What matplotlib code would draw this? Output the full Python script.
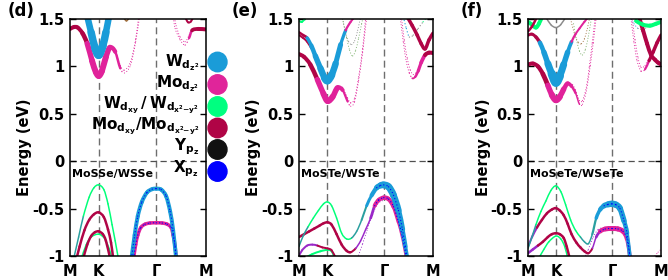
import numpy as np
import matplotlib
matplotlib.use("Agg")
import matplotlib.pyplot as plt
from matplotlib.path import Path
from matplotlib.patches import PathPatch, Ellipse

plt.rcParams["font.family"] = ["DejaVu Sans"]
plt.rcParams["font.weight"] = "bold"
plt.rcParams["mathtext.default"] = "bf"

# k-path M-K-G-M (|MK| : |KG| : |GM| = 0.5 : 1 : 0.866)
kpts = [0.0, 0.5, 1.5, 2.366]
klabels = ["M", "K", "Γ", "M"]
yticks = [-1, -0.5, 0, 0.5, 1, 1.5]
yticklabels = ["-1", "-0.5", "0", "0.5", "1", "1.5"]

# orbital characters
orb_colors = {
    "b": "#1a9cd8",  # W dz2
    "m": "#e0229a",  # Mo dz2
    "g": "#00ff78",  # W dxy / dx2-y2
    "r": "#b00446",  # Mo dxy / dx2-y2
    "k": "#111111",  # Y pz
    "x": "#0000ff",  # X pz
    "t": "#2a9f9f",  # mixed W dz2 + W dxy
    "p": "#9a28c8",  # mixed Mo + X
    "o": "#7ab06a",
    "y": "#8c8c8c",
    "n": "#a07040",
}

# each band: (k, energy, weight, orbital character per point)
# ---- (d) MoSSe/WSSe ----
d_c5 = ([0.929, 0.982, 1.036], [1.52, 1.48, 1.52], [1.5, 1.5, 1.5], "nnn")
d_c4 = ([2.002, 2.054, 2.106, 2.141], [1.52, 1.465, 1.475, 1.52], [2, 2, 2, 2], "rrrr")
d_c3b = ([1.812, 1.846, 1.916, 2.002, 2.072, 2.124], [1.54, 1.43, 1.31, 1.26, 1.33, 1.40], [1] * 6, "mmmmmm")
d_c3 = ([1.794, 1.829, 1.916, 2.002, 2.072, 2.124, 2.227, 2.366],
        [1.54, 1.40, 1.28, 1.225, 1.30, 1.38, 1.395, 1.39],
        [1, 1, 1, 1, 1.5, 3.5, 4, 4], "mmmmmrrr")
d_c1b = ([0.786, 0.875, 0.946, 1.054, 1.143, 1.196], [1.17, 1.01, 0.96, 1.05, 1.29, 1.54], [1] * 6, "mmmmmm")
d_c1 = ([0, 0.067, 0.133, 0.217, 0.30, 0.383, 0.45, 0.5, 0.554, 0.625, 0.696, 0.786, 0.875, 0.946, 1.054, 1.143, 1.214],
        [1.395, 1.415, 1.41, 1.35, 1.24, 1.06, 0.94, 0.90, 0.95, 1.10, 1.20, 1.155, 0.98, 0.93, 1.015, 1.26, 1.54],
        [4, 4, 4, 4, 5, 6, 6, 6, 6, 6, 5, 3.5, 1.5, 1, 1, 1, 1], "rrrrmmmmmmmmmmmmm")
d_c2 = ([0.30, 0.367, 0.433, 0.5, 0.571, 0.625, 0.679], [1.53, 1.36, 1.20, 1.12, 1.22, 1.36, 1.53],
        [6, 7, 8, 8, 8, 7, 6], "bbbbbbb")
d_v1 = ([0.067, 0.15, 0.233, 0.333, 0.417, 0.5, 0.589, 0.661, 0.732, 0.786, 0.839],
        [-1.02, -0.80, -0.58, -0.38, -0.28, -0.25, -0.30, -0.45, -0.67, -0.84, -1.02], [1.5] * 11, "ttggggggggg")
d_v3g = ([0.2, 0.283, 0.367, 0.5, 0.607, 0.679, 0.732], [-1.02, -0.88, -0.80, -0.77, -0.82, -0.92, -1.02],
         [1.5] * 7, "ggggggg")
d_v2 = ([0.117, 0.167, 0.25, 0.333, 0.417, 0.5, 0.589, 0.661, 0.714, 0.75],
        [-1.02, -0.90, -0.73, -0.62, -0.56, -0.54, -0.59, -0.72, -0.86, -1.02], [2.5] * 10, "rrrrrrrrrr")
d_v3 = ([0.233, 0.30, 0.367, 0.433, 0.5, 0.571, 0.625, 0.696],
        [-1.02, -0.88, -0.79, -0.75, -0.74, -0.77, -0.84, -1.02], [2.5] * 8, "rrrrrrrr")
d_v5 = ([1.107, 1.143, 1.179, 1.232, 1.304, 1.393, 1.5, 1.604, 1.691, 1.760, 1.794, 1.829, 1.846],
        [-1.02, -0.88, -0.78, -0.70, -0.665, -0.652, -0.65, -0.652, -0.665, -0.70, -0.78, -0.90, -1.02],
        [3.5] * 13, "m" * 13)
d_v4 = ([1.071, 1.125, 1.179, 1.25, 1.339, 1.429, 1.5, 1.587, 1.673, 1.742, 1.794, 1.846],
        [-1.02, -0.78, -0.58, -0.43, -0.33, -0.295, -0.29, -0.30, -0.37, -0.53, -0.73, -1.02],
        [4] * 12, "b" * 12)

# ---- (e) MoSTe/WSTe ----
e_c0 = ([0, 0.054, 0.126], [1.48, 1.47, 1.52], [2, 2, 2], "ggg")
e_c4 = ([0.770, 0.824, 0.877, 0.930, 0.983, 1.036, 1.088], [1.50, 1.35, 1.26, 1.23, 1.27, 1.38, 1.52], [1] * 7, "yyyyyyy")
e_c3 = ([0.735, 0.788, 0.841, 0.894, 0.947, 1.0, 1.053, 1.106, 1.141],
        [1.62, 1.45, 1.30, 1.17, 1.11, 1.17, 1.30, 1.45, 1.55], [1] * 9, "ooooooooo")
e_c1b = ([0.770, 0.859, 0.912, 0.982, 1.053, 1.124, 1.177], [0.78, 0.665, 0.615, 0.665, 0.89, 1.19, 1.52], [1] * 7, "m" * 7)
e_c1 = ([0, 0.090, 0.199, 0.325, 0.433, 0.505, 0.594, 0.682, 0.770, 0.859, 0.912, 0.982, 1.053, 1.124, 1.195],
        [1.13, 1.10, 1.02, 0.86, 0.71, 0.635, 0.68, 0.775, 0.75, 0.63, 0.58, 0.63, 0.85, 1.15, 1.52],
        [4, 4, 4, 5, 6, 6, 6, 5, 3, 1.5, 1, 1, 1, 1, 1], "rrrmmmmmmmmmmmm")
e_c2b = ([0, 0.072, 0.144, 0.217], [1.33, 1.30, 1.26, 1.19], [2] * 4, "rrrr")
e_c2 = ([0, 0.072, 0.144, 0.217, 0.289, 0.379, 0.451, 0.505, 0.576, 0.647, 0.735, 0.824, 0.912, 0.983],
        [1.36, 1.33, 1.30, 1.22, 1.11, 0.98, 0.88, 0.85, 0.91, 1.03, 1.23, 1.38, 1.47, 1.52],
        [2.5, 2.5, 3, 4, 5, 6, 7, 8, 7, 6, 4, 2.5, 2, 2], "rrbbbbbbbbbmmm")
e_c7 = ([1.843, 1.895, 1.948, 2.017, 2.104, 2.191, 2.261], [1.52, 1.40, 1.31, 1.33, 1.40, 1.47, 1.52], [1.2] * 7, "bbyyygg")
e_c5b = ([1.808, 1.860, 1.913, 1.965, 2.017, 2.069, 2.121], [1.52, 1.27, 1.08, 0.96, 0.915, 0.935, 1.00], [1] * 7, "m" * 7)
e_c5 = ([1.791, 1.843, 1.895, 1.948, 2.0, 2.052, 2.104, 2.157, 2.226, 2.296, 2.366],
        [1.50, 1.25, 1.05, 0.93, 0.875, 0.89, 0.95, 1.04, 1.12, 1.145, 1.14],
        [1, 1, 1, 1, 1.5, 2, 3, 3.5, 4, 4, 4], "mmmmmmmmrrr")
e_c6 = ([1.913, 2.0, 2.087, 2.157, 2.226, 2.296, 2.366], [1.52, 1.43, 1.33, 1.24, 1.185, 1.28, 1.35], [3.5] * 7, "rrrrrrr")
e_v4 = ([0.108, 0.235, 0.379, 0.505, 0.576, 0.629], [-1.02, -0.98, -0.95, -0.935, -0.95, -1.02], [2] * 6, "gggggg")
e_v3 = ([0, 0.054, 0.144, 0.235, 0.325, 0.415, 0.505, 0.576, 0.647],
        [-1.00, -0.94, -0.89, -0.88, -0.89, -0.91, -0.92, -0.94, -1.02], [2] * 9, "pppprrrrr")
e_v5 = ([1.036, 1.124, 1.212, 1.300, 1.389, 1.495], [-1.02, -0.87, -0.71, -0.56, -0.45, -0.41], [1] * 6, "pppppp")
e_v2 = ([0, 0.090, 0.181, 0.271, 0.361, 0.433, 0.505, 0.576, 0.664, 0.753, 0.841, 0.912,
         1.0, 1.088, 1.177, 1.265, 1.336, 1.406, 1.495, 1.582, 1.669, 1.756, 1.826, 1.895],
        [-0.80, -0.77, -0.74, -0.71, -0.68, -0.655, -0.645, -0.67, -0.77, -0.88, -0.945, -0.96,
         -0.92, -0.84, -0.72, -0.60, -0.47, -0.41, -0.385, -0.40, -0.48, -0.64, -0.80, -1.02],
        [2.5] * 12 + [1.5] * 4 + [4, 4, 4.5, 4.5, 4, 3.5, 3, 3], "r" * 12 + "p" * 4 + "m" * 8)
e_v1 = ([0, 0.072, 0.162, 0.253, 0.343, 0.433, 0.505, 0.576, 0.664, 0.753, 0.841, 0.929, 1.018,
         1.106, 1.194, 1.283, 1.371, 1.442, 1.495, 1.582, 1.669, 1.756, 1.826, 1.878, 1.913],
        [-0.90, -0.79, -0.69, -0.60, -0.52, -0.45, -0.43, -0.47, -0.60, -0.76, -0.82, -0.81, -0.74,
         -0.62, -0.47, -0.36, -0.28, -0.255, -0.25, -0.27, -0.36, -0.52, -0.72, -0.90, -1.02],
        [1.5] * 14 + [2.5, 3.5, 5, 6, 7, 7, 7, 6, 5, 4, 3.5], "tt" + "g" * 9 + "ttt" + "b" * 11)

# ---- (f) MoSeTe/WSeTe ----
f_c5 = ([0, 0.071, 0.141, 0.194, 0.247], [1.47, 1.44, 1.41, 1.45, 1.52], [4] * 5, "ggggg")
f_c6b = ([0, 0.071, 0.141], [1.37, 1.42, 1.50], [2.5] * 3, "rrr")
f_c6 = ([0.318, 0.406, 0.495, 0.582, 0.670], [1.52, 1.44, 1.41, 1.44, 1.52], [1.5] * 5, "yyyyy")
f_c4 = ([0.758, 0.828, 0.898, 0.951, 1.003, 1.056, 1.091], [1.50, 1.34, 1.25, 1.24, 1.29, 1.40, 1.50], [1] * 7, "nnnnnnn")
f_c3 = ([0.810, 0.863, 0.916, 0.968, 1.021, 1.074, 1.126], [1.45, 1.28, 1.16, 1.12, 1.18, 1.32, 1.50], [1] * 7, "ooooooo")
f_c1b = ([0.793, 0.845, 0.916, 0.968, 1.038, 1.091, 1.143, 1.196],
         [0.81, 0.75, 0.64, 0.64, 0.78, 1.00, 1.25, 1.52], [1] * 8, "m" * 8)
f_c1 = ([0, 0.088, 0.177, 0.265, 0.353, 0.424, 0.495, 0.565, 0.635, 0.705, 0.775, 0.845, 0.916, 0.968,
         1.038, 1.108, 1.161, 1.214],
        [1.02, 1.03, 1.00, 0.92, 0.80, 0.70, 0.645, 0.68, 0.76, 0.82, 0.79, 0.72, 0.60, 0.60,
         0.74, 1.01, 1.25, 1.52],
        [4, 4, 4, 4.5, 5, 6, 6.5, 6, 5, 4, 3, 2, 1, 1, 1, 1, 1, 1], "rrrr" + "m" * 14)
f_c2 = ([0, 0.071, 0.141, 0.212, 0.283, 0.353, 0.424, 0.495, 0.565, 0.635, 0.705, 0.775, 0.845, 0.916, 1.003, 1.074],
        [1.33, 1.34, 1.31, 1.25, 1.15, 1.03, 0.92, 0.83, 0.90, 1.02, 1.15, 1.26, 1.34, 1.40, 1.47, 1.52],
        [3, 3, 3, 4, 5, 6, 8, 9, 8, 6, 5, 2.5, 2, 2, 2, 2], "rrr" + "b" * 8 + "m" * 5)
f_bg = ([1.815, 1.886, 1.958, 2.047, 2.136], [1.52, 1.45, 1.40, 1.39, 1.42], [1] * 5, "bbyyy")
f_ca = ([1.833, 1.886, 1.940, 2.011, 2.082, 2.154, 2.225, 2.296, 2.367],
        [1.50, 1.25, 1.06, 0.95, 0.97, 1.06, 1.15, 1.25, 1.33], [1, 1, 1, 1, 1.5, 3, 3.5, 3.5, 3.5], "mmmmmrrrr")
f_cab = ([1.851, 1.904, 1.958, 2.011, 2.082, 2.136], [1.52, 1.28, 1.09, 0.99, 1.01, 1.08], [1] * 6, "m" * 6)
f_cb = ([1.976, 2.047, 2.118, 2.189, 2.260, 2.314, 2.367], [1.52, 1.38, 1.24, 1.12, 1.07, 1.04, 1.02], [4] * 7, "r" * 7)
f_c8 = ([1.922, 2.047, 2.171, 2.278, 2.367], [1.48, 1.44, 1.43, 1.45, 1.47], [4] * 5, "ggggg")
f_v4 = ([0.194, 0.283, 0.371, 0.495, 0.583, 0.653, 0.705], [-1.02, -0.93, -0.85, -0.79, -0.82, -0.90, -1.02],
        [1.5] * 7, "g" * 7)
f_v3 = ([0, 0.088, 0.177, 0.265, 0.353, 0.424, 0.495, 0.565, 0.635, 0.688, 0.740],
        [-0.97, -0.93, -0.89, -0.85, -0.80, -0.77, -0.76, -0.77, -0.81, -0.90, -1.02], [2.5] * 11, "pp" + "r" * 9)
f_v5 = ([1.004, 1.074, 1.161, 1.249, 1.354, 1.495, 1.637, 1.744, 1.797, 1.833],
        [-1.02, -0.93, -0.80, -0.72, -0.70, -0.695, -0.70, -0.77, -0.90, -1.02], [1] * 10, "p" * 10)
f_v2 = ([0, 0.071, 0.159, 0.247, 0.336, 0.424, 0.495, 0.565, 0.635, 0.705, 0.775, 0.863, 0.933, 1.004,
         1.074, 1.144, 1.214, 1.284, 1.372, 1.495, 1.601, 1.690, 1.762, 1.815],
        [-0.90, -0.80, -0.70, -0.62, -0.55, -0.51, -0.495, -0.52, -0.57, -0.66, -0.77, -0.86, -0.91, -0.95,
         -0.97, -0.92, -0.80, -0.74, -0.715, -0.71, -0.715, -0.74, -0.82, -1.02],
        [2, 2] + [2.5] * 13 + [1.5, 1.5] + [4, 5, 5, 5, 5, 4, 3.5], "pp" + "r" * 13 + "pp" + "m" * 7)
f_v1 = ([0, 0.071, 0.141, 0.230, 0.318, 0.406, 0.495, 0.583, 0.670, 0.758, 0.846, 0.933, 1.004, 1.074,
         1.144, 1.214, 1.284, 1.354, 1.425, 1.495, 1.566, 1.637, 1.708, 1.762, 1.815],
        [-0.92, -0.80, -0.67, -0.53, -0.42, -0.31, -0.26, -0.32, -0.46, -0.62, -0.73, -0.80, -0.85, -0.87,
         -0.77, -0.60, -0.51, -0.47, -0.455, -0.45, -0.46, -0.50, -0.63, -0.76, -1.02],
        [1.5] * 15 + [3, 4, 5, 6, 6.5, 6.5, 6, 5, 4, 3.5], "tt" + "g" * 9 + "tttt" + "b" * 10)
f_vm = ([2.225, 2.314, 2.367], [-1.02, -0.96, -0.93], [1] * 3, "mmm")

panels = [
    ("(d)", "MoSSe/WSSe",
     [d_c5, d_c4, d_c3b, d_c3, d_c1b, d_c1, d_c2, d_v1, d_v3g, d_v2, d_v3, d_v5, d_v4],
     [(d_v4, 0), (d_v5, 0)]),
    ("(e)", "MoSTe/WSTe",
     [e_c0, e_c4, e_c3, e_c1b, e_c1, e_c2b, e_c2, e_c7, e_c5b, e_c5, e_c6, e_v4, e_v3, e_v5, e_v2, e_v1],
     [(e_v2, 16), (e_v1, 16)]),
    ("(f)", "MoSeTe/WSeTe",
     [f_c5, f_c6b, f_c6, f_c4, f_c3, f_c1b, f_c1, f_c2, f_bg, f_ca, f_cab, f_cb, f_c8, f_v4, f_v3, f_v5, f_v2, f_v1, f_vm],
     [(f_v2, 17), (f_v1, 17)]),
]

legend_labels = [r"$W_{d_{z^2}}$", r"$Mo_{d_{z^2}}$", r"$W_{d_{xy}}\,/\,W_{d_{x^2{-}y^2}}$",
                 r"$Mo_{d_{xy}}/Mo_{d_{x^2{-}y^2}}$", r"$Y_{p_z}$", r"$X_{p_z}$"]
legend_orbs = ["b", "m", "g", "r", "k", "x"]
legend_colors = {"m": "#e0259a", "g": "#00ff80"}


def draw_band(ax, k, e, w, orb, z=2):
    # smooth curve through the read points (Catmull-Rom as cubic Bezier), width = weight
    k = np.asarray(k, float)
    e = np.asarray(e, float)
    n = len(k)
    for i in range(n - 1):
        p0 = (k[max(i - 1, 0)], e[max(i - 1, 0)])
        p1 = (k[i], e[i])
        p2 = (k[i + 1], e[i + 1])
        p3 = (k[min(i + 2, n - 1)], e[min(i + 2, n - 1)])
        c1 = (p1[0] + (p2[0] - p0[0]) / 6, p1[1] + (p2[1] - p0[1]) / 6)
        c2 = (p2[0] - (p3[0] - p1[0]) / 6, p2[1] - (p3[1] - p1[1]) / 6)
        path = Path([p1, c1, c2, p2], [Path.MOVETO, Path.CURVE4, Path.CURVE4, Path.CURVE4])
        lw = 0.5 * (w[i] + w[i + 1]) * 0.72
        ls = (0, (0.2, 2.6)) if lw < 0.9 else "-"
        ax.add_patch(PathPatch(path, fill=False, edgecolor=orb_colors[orb[i]], lw=lw,
                               capstyle="round", joinstyle="round", linestyle=ls, zorder=z))


fig = plt.figure(figsize=(6.68, 2.8), dpi=100)
lefts = [70, 299, 528]
widths = [136, 134, 133]
label_x = [8, 232, 461]

for (tag, name, bands, overlays), lx, wd, tx in zip(panels, lefts, widths, label_x):
    ax = fig.add_axes([lx / 668, 24 / 280, wd / 668, 237 / 280])
    ax.set_xlim(kpts[0], kpts[-1])
    ax.set_ylim(-1, 1.5)
    for kp in kpts[1:3]:
        ax.axvline(kp, color="#6e6e6e", lw=1.0, ls=(0, (5, 3)), zorder=1)
    ax.axhline(0, color="#505050", lw=0.9, ls=(0, (5, 3)), zorder=1)
    for k, e, w, o in bands:
        draw_band(ax, k, e, w, o)
    for (k, e, w, o), start in overlays:
        draw_band(ax, k[start:], e[start:], [1.2] * len(k[start:]), "x" * len(k[start:]), z=3)
    ax.set_xticks(kpts)
    ax.set_xticklabels(klabels, fontsize=10.5, fontweight="bold")
    ax.set_yticks(yticks)
    ax.set_yticklabels(yticklabels, fontsize=10.5, fontweight="bold")
    ax.tick_params(axis="x", length=0, pad=6)
    ax.tick_params(axis="y", direction="in", length=4, width=1, right=True, pad=4)
    for sp in ax.spines.values():
        sp.set_linewidth(1.1)
    ax.set_ylabel("Energy (eV)", fontsize=10.5, fontweight="bold")
    ax.yaxis.set_label_coords(-0.28, 0.46)
    ax.text(0.035, -0.17, name, fontsize=8, fontweight="bold", va="baseline")
    fig.text(tx / 668, 1 - 11 / 280, tag, fontsize=12, fontweight="bold", va="center")

# legend
lax = fig.add_axes([0, 0, 1, 1], facecolor="none")
lax.set_xlim(0, 668)
lax.set_ylim(280, 0)
lax.axis("off")
circle_y = [62, 84.5, 106.5, 128, 149.5, 171.5]
text_y = [66, 87, 108, 129, 150, 172]
for lab, o, cy, ty in zip(legend_labels, legend_orbs, circle_y, text_y):
    lax.add_patch(Ellipse((217.5, cy), 19, 19.5, color=legend_colors.get(o, orb_colors[o])))
    lax.text(199, ty, lab, fontsize=11, ha="right", va="baseline")

fig.savefig("out.png", dpi=100)
